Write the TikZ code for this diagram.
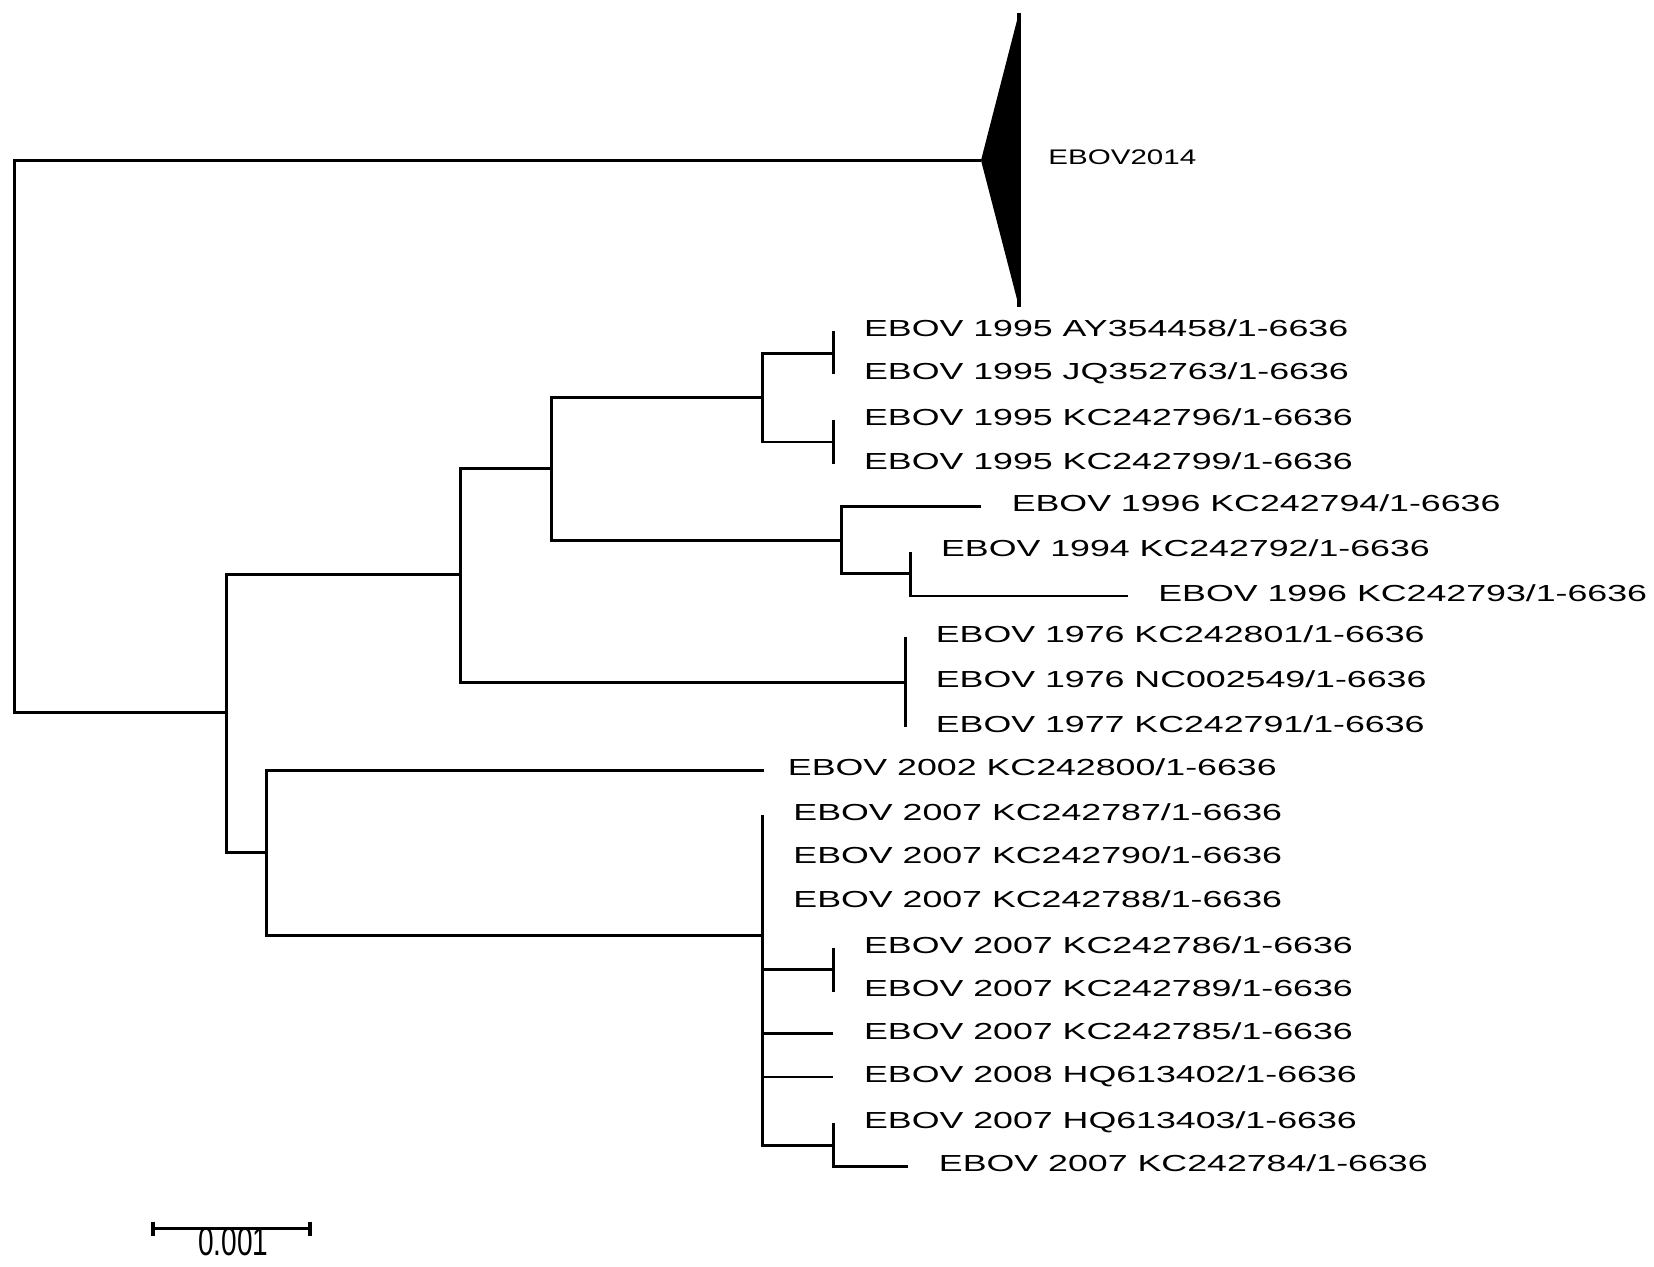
\documentclass[tikz,border=0pt]{standalone}
\usepackage{fontspec}
\setmainfont{Liberation Sans}
\usetikzlibrary{positioning,calc}

\begin{document}
\begin{tikzpicture}[x=0.5pt,y=-0.5pt,line width=1.4pt,lab/.style={anchor=base west,inner sep=0pt,xshift=13.5pt,yshift=-2.5pt,xscale=1.54,font=\fontsize{11}{13}\selectfont}]
      \useasboundingbox (0,0) rectangle (1568,1201);
      % inner nodes of the tree
      \coordinate (r) at (14,414); \coordinate (a) at (215,675); \coordinate (b) at (437,545); \coordinate (c) at (523,444); \coordinate (d) at (723,377);
      \coordinate (e) at (790,335); \coordinate (f) at (790,419); \coordinate (g) at (798,512); \coordinate (h) at (863,544); \coordinate (i) at (858,647);
      \coordinate (j) at (253,808); \coordinate (k) at (723,887); \coordinate (l) at (790,919); \coordinate (m) at (790,1086);
      \coordinate (clade) at (930,152); \coordinate (ctop) at (966,12); \coordinate (cbot) at (966,291);
      % tips
      \coordinate (t1) at (790,314); \coordinate (t2) at (790,355); \coordinate (t3) at (790,398); \coordinate (t4) at (790,440); \coordinate (t5) at (930,480);
      \coordinate (t6) at (863,523); \coordinate (t7) at (1069,565); \coordinate (t8) at (858,604); \coordinate (t9) at (858,647); \coordinate (t10) at (858,689);
      \coordinate (t11) at (724,730); \coordinate (t12) at (723,773); \coordinate (t13) at (723,814); \coordinate (t14) at (723,855); \coordinate (t15) at (790,899);
      \coordinate (t16) at (790,940); \coordinate (t17) at (790,980); \coordinate (t18) at (790,1021); \coordinate (t19) at (790,1065); \coordinate (t20) at (861,1106);
      % branches
      \draw (r) |- (clade) (r) |- (a); \draw (a) |- (b) (a) |- (j); \draw (b) |- (c) (b) |- (i); \draw (c) |- (d) (c) |- (g);
      \draw (d) |- (e) (d) |- (f); \draw (e) |- (t1) (e) |- (t2); \draw (f) |- (t3) (f) |- (t4); \draw (g) |- (t5) (g) |- (h); \draw (h) |- (t6) (h) |- (t7);
      \draw (i) |- (t8) (i) |- (t9) (i) |- (t10); \draw (j) |- (t11) (j) |- (k);
      \draw (k) |- (t12) (k) |- (t13) (k) |- (t14) (k) |- (l) (k) |- (t17) (k) |- (t18) (k) |- (m);
      \draw (l) |- (t15) (l) |- (t16); \draw (m) |- (t19) (m) |- (t20);
      % collapsed clade
      \fill (clade) -- (ctop) -- (cbot) -- cycle; \draw[line width=2pt] (ctop) -- (cbot);
      \node[anchor=base west,inner sep=0pt,xscale=1.4,font=\fontsize{10}{12}\selectfont] (n0) at (992,156) {EBOV2014};
      % tip labels
      \node[lab] (n1) at (t1) {EBOV 1995 AY354458/1-6636}; \node[lab] (n2) at (t2) {EBOV 1995 JQ352763/1-6636};
      \node[lab] (n3) at (t3) {EBOV 1995 KC242796/1-6636}; \node[lab] (n4) at (t4) {EBOV 1995 KC242799/1-6636};
      \node[lab] (n5) at (t5) {EBOV 1996 KC242794/1-6636}; \node[lab] (n6) at (t6) {EBOV 1994 KC242792/1-6636};
      \node[lab] (n7) at (t7) {EBOV 1996 KC242793/1-6636}; \node[lab] (n8) at (t8) {EBOV 1976 KC242801/1-6636};
      \node[lab] (n9) at (t9) {EBOV 1976 NC002549/1-6636}; \node[lab] (n10) at (t10) {EBOV 1977 KC242791/1-6636};
      \node[lab,xshift=-2pt] (n11) at (t11) {EBOV 2002 KC242800/1-6636}; \node[lab] (n12) at (t12) {EBOV 2007 KC242787/1-6636};
      \node[lab] (n13) at (t13) {EBOV 2007 KC242790/1-6636}; \node[lab] (n14) at (t14) {EBOV 2007 KC242788/1-6636};
      \node[lab] (n15) at (t15) {EBOV 2007 KC242786/1-6636}; \node[lab] (n16) at (t16) {EBOV 2007 KC242789/1-6636};
      \node[lab] (n17) at (t17) {EBOV 2007 KC242785/1-6636}; \node[lab] (n18) at (t18) {EBOV 2008 HQ613402/1-6636};
      \node[lab] (n19) at (t19) {EBOV 2007 HQ613403/1-6636}; \node[lab] (n20) at (t20) {EBOV 2007 KC242784/1-6636};
      % scale bar
      \coordinate (s1) at (145,1165); \coordinate (s2) at (294,1165);
      \node[anchor=north,inner sep=0pt,xscale=0.7,font=\fontsize{19}{21}\selectfont] (sc) at (221,1162) {0.001};
      \draw (s1) -- (s2); \draw[line width=2.2pt] ([yshift=3.5pt]s1) -- ([yshift=-3.5pt]s1) ([yshift=3.5pt]s2) -- ([yshift=-3.5pt]s2);
    \end{tikzpicture}
\end{document}
